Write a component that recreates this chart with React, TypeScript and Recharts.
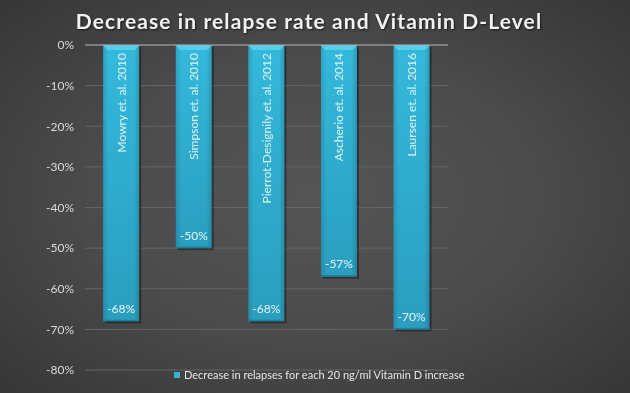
import React from "react";
import { BarChart, Bar, XAxis, YAxis, CartesianGrid, ReferenceLine, LabelList, Legend } from "recharts";

const categories = [
  "Mowry et. al. 2010",
  "Simpson et. al. 2010",
  "Pierrot-Designily et. al. 2012",
  "Ascherio et. al. 2014",
  "Laursen et. al. 2016",
];
const values = [-0.68, -0.5, -0.68, -0.57, -0.7];
const yTicks = [0, -0.1, -0.2, -0.3, -0.4, -0.5, -0.6, -0.7, -0.8];
const seriesName = "Decrease in relapses for each 20 ng/ml Vitamin D increase";
const title = "Decrease in relapse rate and Vitamin D-Level";

const data = categories.map((name, i) => ({ name, value: values[i] }));

const FONT = "Lato, 'Open Sans', sans-serif";

const fmtPct = (v: number) => `${Math.round(v * 100)}%`;

const renderBar = (props: any) => {
  const x = Number(props.x);
  const y = Number(props.y);
  const width = Number(props.width);
  const height = Number(props.height);
  if (!isFinite(x) || !isFinite(y) || !isFinite(width) || !isFinite(height) || width <= 0) return <g />;
  const top = Math.min(y, y + height);
  const h = Math.abs(height);
  const bev = 5;
  return (
    <g>
      <rect x={x + 2} y={top + 2} width={width} height={h} fill="rgba(0,0,0,0.38)" />
      <rect x={x} y={top} width={width} height={h} fill="url(#barGradV)" />
      <rect x={x} y={top} width={width} height={h} fill="url(#barGradH)" />
      <polygon
        points={`${x},${top} ${x + width},${top} ${x + width - 4},${top + bev} ${x + 4},${top + bev}`}
        fill="#58d2ee"
        opacity={0.9}
      />
      <rect x={x} y={top + h - 1.5} width={width} height={1.5} fill="#1d7f9a" />
    </g>
  );
};

const NameLabel = (props: any) => {
  const { x, y, width, height, value } = props;
  const top = Math.min(y, y + height);
  const cx = x + width / 2;
  const ty = top + 8;
  return (
    <text
      x={cx}
      y={ty}
      transform={`rotate(-90, ${cx}, ${ty})`}
      textAnchor="end"
      dominantBaseline="central"
      fill="#dff2f8"
      fontSize={12}
      fontFamily={FONT}
    >
      {value}
    </text>
  );
};

const ValueLabel = (props: any) => {
  const { x, y, width, height, value } = props;
  const bottom = Math.max(y, y + height);
  return (
    <text
      x={x + width / 2}
      y={bottom - 13}
      textAnchor="middle"
      dominantBaseline="central"
      fill="#e4f3f8"
      fontSize={12}
      fontFamily={FONT}
    >
      {fmtPct(value)}
    </text>
  );
};

const LegendContent = () => (
  <div style={{ display: "flex", alignItems: "center", fontFamily: FONT, fontSize: 11, color: "#e6e6e6" }}>
    <span style={{ display: "inline-block", width: 6, height: 6, background: "#35b5d6", marginRight: 4 }} />
    <span>{seriesName}</span>
  </div>
);

export default function App() {
  return (
    <div
      style={{
        position: "fixed",
        left: 0,
        top: 0,
        width: 630,
        height: 393,
        background: "radial-gradient(ellipse at 50% 50%, #555555 0%, #4b4b4b 50%, #363636 100%)",
        overflow: "hidden",
      }}
    >
      <div
        style={{
          position: "absolute",
          left: -6,
          top: 8,
          width: 630,
          textAlign: "center",
          fontFamily: FONT,
          fontWeight: 700,
          fontSize: 21,
          letterSpacing: 1.1,
          color: "#f2f2f2",
          textShadow: "1px 1px 2px rgba(0,0,0,0.6)",
        }}
      >
        {title}
      </div>
      <BarChart
        width={630}
        height={393}
        data={data}
        margin={{ top: 45, right: 182, bottom: 9, left: 0 }}
        barCategoryGap="25%"
      >
        <defs>
          <linearGradient id="barGradV" x1="0" y1="0" x2="0" y2="1">
            <stop offset="0%" stopColor="#34b9dc" />
            <stop offset="100%" stopColor="#2a9ebf" />
          </linearGradient>
          <linearGradient id="barGradH" x1="0" y1="0" x2="1" y2="0">
            <stop offset="0%" stopColor="#000000" stopOpacity={0.12} />
            <stop offset="15%" stopColor="#000000" stopOpacity={0} />
            <stop offset="85%" stopColor="#000000" stopOpacity={0} />
            <stop offset="100%" stopColor="#000000" stopOpacity={0.15} />
          </linearGradient>
        </defs>
        <CartesianGrid vertical={false} stroke="#666666" strokeWidth={1} />
        <XAxis dataKey="name" hide />
        <YAxis
          width={85}
          domain={[-0.8, 0]}
          ticks={yTicks}
          tickFormatter={fmtPct}
          axisLine={false}
          tickLine={false}
          tickMargin={5}
          tick={{ fill: "#d9d9d9", fontSize: 12, fontFamily: FONT }}
          interval={0}
        />
        <ReferenceLine y={0} stroke="#a8a8a8" strokeWidth={1} />
        <Bar dataKey="value" name={seriesName} fill="#33b0d1" shape={renderBar} isAnimationActive={false}>
          <LabelList dataKey="name" content={<NameLabel />} />
          <LabelList dataKey="value" content={<ValueLabel />} />
        </Bar>
        <Legend
          content={<LegendContent />}
          wrapperStyle={{ position: "absolute", left: 174, top: 368, width: 320, height: 14 }}
        />
      </BarChart>
    </div>
  );
}
